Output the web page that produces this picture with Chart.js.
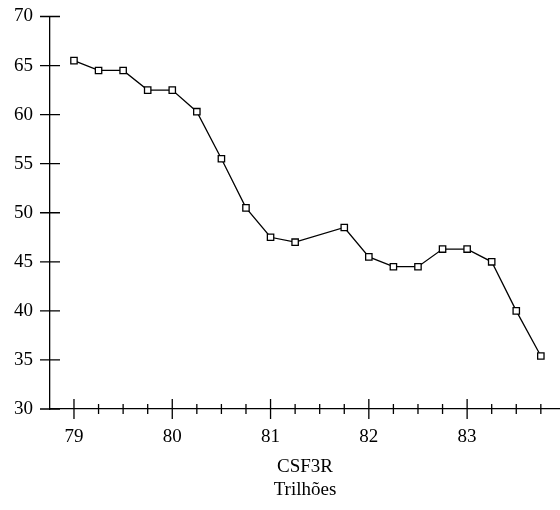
<!DOCTYPE html>
<html>
<head>
<meta charset="utf-8">
<script src="https://cdn.jsdelivr.net/npm/chart.js@4"></script>
<style>
  body { margin: 0; background: #fff; }
</style>
</head>
<body>
<canvas id="chart" width="560" height="510"></canvas>
<script>
// valores
var xValues = [79, 79.25, 79.5, 79.75, 80, 80.25, 80.5, 80.75, 81, 81.25, 81.75, 82, 82.25, 82.5, 82.75, 83, 83.25, 83.5, 83.75];
var yValues = [65.5, 64.5, 64.5, 62.5, 62.5, 60.3, 55.5, 50.5, 47.5, 47.0, 48.5, 45.5, 44.5, 44.5, 46.3, 46.3, 45.0, 40.0, 35.4];
var xTicks = [79, 79.25, 79.5, 79.75, 80, 80.25, 80.5, 80.75, 81, 81.25, 81.5, 81.75, 82, 82.25, 82.5, 82.75, 83, 83.25, 83.5, 83.75];
var yTicks = [30, 35, 40, 45, 50, 55, 60, 65, 70];
var xTitle = ['CSF3R', 'Trilhões'];

var pts = xValues.map(function (v, i) { return { x: v, y: yValues[i] }; });
var serif = '"Liberation Serif", "Times New Roman", serif';

// ticks cruzando o eixo (dos dois lados)
var crossTicks = {
  id: 'crossTicks',
  afterDraw: function (chart) {
    var ctx = chart.ctx;
    var xs = chart.scales.x, ys = chart.scales.y;
    ctx.save();
    ctx.strokeStyle = '#000';
    ctx.lineWidth = 1.3;
    ctx.beginPath();
    xs.ticks.forEach(function (t) {
      var px = xs.getPixelForValue(t.value);
      var major = Math.abs(t.value - Math.round(t.value)) < 1e-6;
      var l = major ? 10 : 5;
      ctx.moveTo(px, ys.bottom - l);
      ctx.lineTo(px, ys.bottom + l);
    });
    ys.ticks.forEach(function (t) {
      var py = ys.getPixelForValue(t.value);
      ctx.moveTo(xs.left - 10, py);
      ctx.lineTo(xs.left + 10, py);
    });
    ctx.stroke();
    ctx.restore();
  }
};

var ctx = document.getElementById('chart').getContext('2d');
var myChart = new Chart(ctx, {
  type: 'line',
  data: {
    datasets: [{
      data: pts,
      borderColor: '#000',
      borderWidth: 1.3,
      pointStyle: 'rect',
      pointRadius: 4.5,
      pointBorderWidth: 1.3,
      pointBorderColor: '#000',
      pointBackgroundColor: '#fff',
      fill: false,
      tension: 0
    }]
  },
  options: {
    responsive: false,
    animation: false,
    layout: { autoPadding: false, padding: { left: 0, right: 0, top: 16.5, bottom: 0 } },
    plugins: { legend: { display: false }, tooltip: { enabled: false } },
    scales: {
      x: {
        type: 'linear',
        min: 78.756,
        max: 83.945,
        grid: { display: false, drawTicks: false },
        border: { display: true, color: '#000', width: 1.3 },
        afterBuildTicks: function (s) { s.ticks = xTicks.map(function (v) { return { value: v }; }); },
        ticks: {
          autoSkip: false,
          maxRotation: 0,
          padding: 17,
          color: '#000',
          font: { family: serif, size: 19 },
          callback: function (v) {
            return Math.abs(v - Math.round(v)) < 1e-6 ? String(Math.round(v)) : '';
          }
        },
        title: {
          display: true,
          text: xTitle,
          color: '#000',
          padding: { top: 0, bottom: 9 },
          font: { family: serif, size: 19, lineHeight: 1.2 }
        },
        afterFit: function (s) { s.height = 101; s.paddingLeft = 0; s.paddingRight = 0; }
      },
      y: {
        min: 30,
        max: 70,
        grid: { display: false, drawTicks: false },
        border: { display: true, color: '#000', width: 1.3 },
        afterBuildTicks: function (s) { s.ticks = yTicks.map(function (v) { return { value: v }; }); },
        ticks: {
          padding: 17,
          color: '#000',
          font: { family: serif, size: 19 }
        },
        afterFit: function (s) { s.width = 50; s.paddingTop = 0; s.paddingBottom = 0; }
      }
    }
  },
  plugins: [crossTicks]
});
</script>
</body>
</html>
